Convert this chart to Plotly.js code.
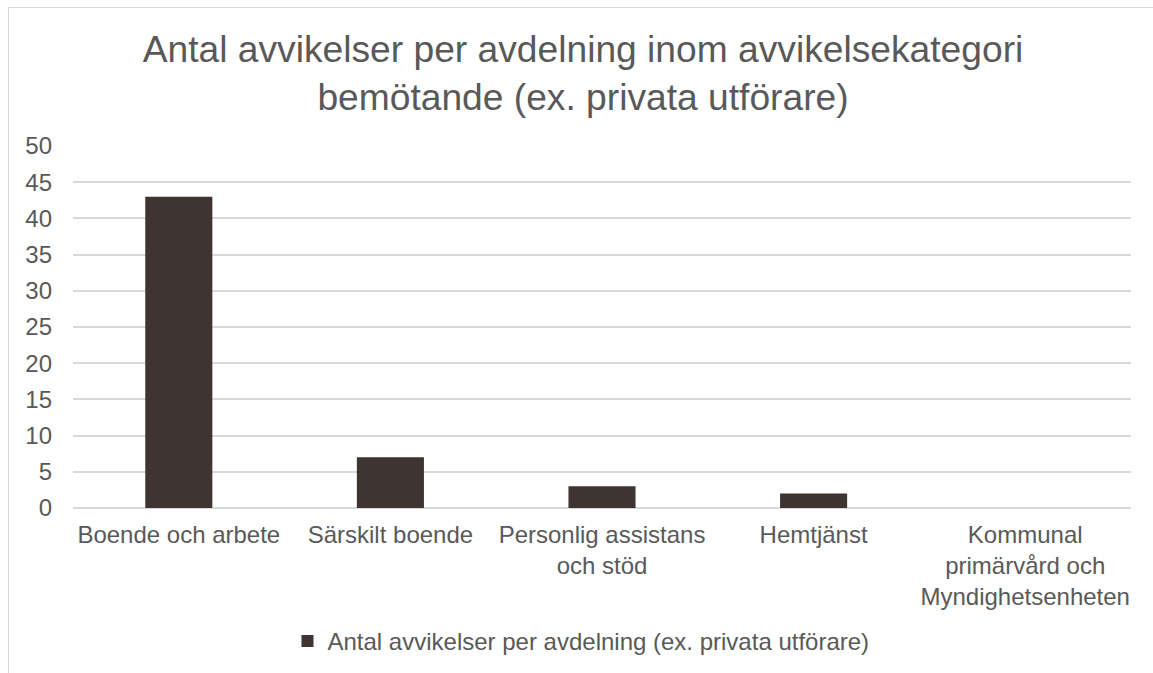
<!DOCTYPE html>
<html>
<head>
<meta charset="utf-8">
<script src="https://cdn.plot.ly/plotly-3.0.1.min.js"></script>
<style>
html,body{margin:0;padding:0;background:#fff;}
#chart{width:1153px;height:673px;position:absolute;left:0;top:0;}
#frame{position:absolute;left:8px;top:7px;width:1160px;height:680px;border-left:1.5px solid #d9d9d9;border-top:1.5px solid #d9d9d9;pointer-events:none;}
</style>
</head>
<body>
<div id="chart"></div>
<div id="frame"></div>
<script>
const categories = [
  "Boende och arbete",
  "Särskilt boende",
  "Personlig assistans<br>och stöd",
  "Hemtjänst",
  "Kommunal<br>primärvård och<br>Myndighetsenheten"
];
const values = [43, 7, 3, 2, 0];
const seriesName = "Antal avvikelser per avdelning (ex. privata utförare)";
const titleText = "Antal avvikelser per avdelning inom avvikelsekategori<br>bemötande (ex. privata utförare)";
const yTicks = [0, 5, 10, 15, 20, 25, 30, 35, 40, 45, 50];

const font = "Liberation Sans, Arial, sans-serif";
const textColor = "#595959";

const data = [{
  type: "bar",
  x: categories,
  y: values,
  name: seriesName,
  marker: {color: "#3e3532"},
  hoverinfo: "x+y"
}];

const layout = {
  width: 1153,
  height: 673,
  margin: {l: 73, r: 22, t: 146, b: 165},
  paper_bgcolor: "#ffffff",
  plot_bgcolor: "#ffffff",
  font: {family: font, color: textColor, size: 24},
  title: {
    text: titleText,
    font: {family: font, size: 37.2, color: textColor},
    x: 583 / 1153, xref: "container", xanchor: "center",
    y: 1 - 62/673, yref: "container", yanchor: "top"
  },
  bargap: 0.683,
  showlegend: true,
  legend: {
    orientation: "h",
    x: 581 / 1153, xref: "container", xanchor: "center",
    y: 1 - 619/673, yref: "container", yanchor: "top",
    font: {family: font, size: 24, color: textColor},
    itemwidth: 30
  },
  xaxis: {
    type: "category",
    showgrid: false,
    showline: false,
    zeroline: false,
    ticks: "",
    tickfont: {family: font, size: 24, color: textColor},
    ticklabelstandoff: 10
  },
  yaxis: {
    range: [0, 50],
    tickvals: yTicks,
    ticktext: yTicks.map(String),
    showgrid: true,
    gridcolor: "#d9d9d9",
    gridwidth: 1.5,
    zeroline: true,
    zerolinecolor: "#d9d9d9",
    zerolinewidth: 1.5,
    showline: false,
    ticks: "",
    tickfont: {family: font, size: 24, color: textColor},
    ticklabelstandoff: 20
  }
};

Plotly.newPlot("chart", data, layout, {displayModeBar: false, staticPlot: false});
</script>
</body>
</html>
